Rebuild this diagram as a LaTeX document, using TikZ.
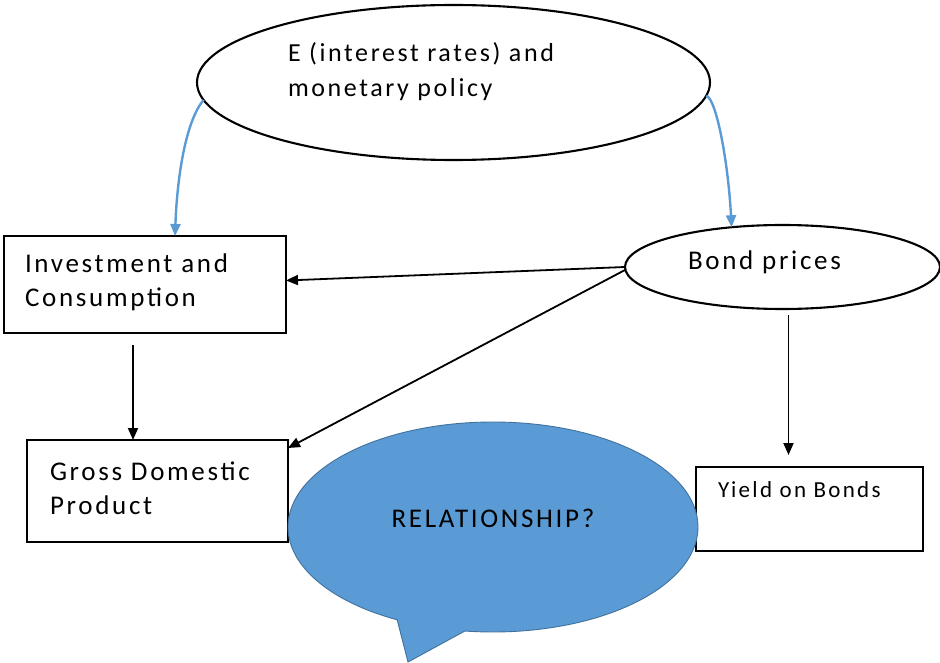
\documentclass[tikz,border=0pt]{standalone}
\usepackage{fontspec}
\setmainfont{Carlito}[LetterSpace=10]
\usetikzlibrary{arrows.meta,positioning,shapes.geometric,shapes.callouts}
\definecolor{wordblue}{RGB}{91,155,213}
\definecolor{wordblueline}{RGB}{65,113,156}

\begin{document}
\begin{tikzpicture}[
    x=1pt, y=-1pt,
    >={Triangle[length=12pt,width=10pt]},
    every node/.style={inner sep=0pt, outer sep=0pt},
    box/.style={draw, line width=2.1pt, rectangle},
    oval/.style={draw, line width=2.1pt, ellipse},
    lbl/.style={anchor=west, align=left, font=\fontsize{27}{34}\selectfont},
    arr/.style={->, line width=1.8pt},
    bluearr/.style={->, line width=2.4pt, wordblue},
]
\useasboundingbox (0,0) rectangle (940,663);

% === shapes ===
\node[oval, minimum width=513pt, minimum height=155pt] (rates) at (453.5,82.5) {};
\node[oval, minimum width=315pt, minimum height=84pt] (bond) at (782.5,267) {};
\node[box, minimum width=282pt, minimum height=97pt] (invest) at (145,284.5) {};
\node[box, minimum width=261pt, minimum height=102pt] (gdp) at (157.5,491) {};
\node[box, minimum width=227pt, minimum height=84pt] (yield) at (809.5,509) {};
\node[ellipse callout, fill=wordblue, draw=wordblueline, line width=0.9pt,
      minimum width=410pt, minimum height=210pt, text depth=18pt,
      callout absolute pointer={(408,662)}, callout pointer arc=20,
      font=\fontsize{27}{30}\selectfont] (relation) at (493,527) {RELATIONSHIP?};

% === labels ===
\node[lbl, font=\fontsize{26}{35}\selectfont] (ratestext) at (288,72) {E (interest rates) and\\monetary policy};
\node[lbl] (bondtext) at (688,262) {Bond prices};
\node[lbl] (investtext) at (25,282) {Investment and\\Consumption};
\node[lbl] (gdptext) at (50,488) {Gross Domestic\\Product};
\node[lbl, font=\fontsize{23}{28}\selectfont] (yieldtext) at (718,490) {Yield on Bonds};

% === connectors ===
\draw[bluearr] (rates.184) .. controls (185,122) and (177,180) .. ([xshift=30pt]invest.north);
\draw[bluearr] (rates.357) .. controls (716,98) and (728,160) .. (bond.142);
\draw[arr] (bond.west) -- ([yshift=4pt]invest.east);
\draw[arr] ([yshift=-3pt]bond.west) -- ([yshift=-8pt]gdp.north east);
\draw[arr] ([xshift=-12pt,yshift=-12pt]invest.south) -- ([xshift=-12pt]invest.south |- gdp.north);
\draw[arr] ([xshift=6pt,yshift=-6pt]bond.south) -- ([xshift=6pt,yshift=12pt]bond.south |- yield.north);
\end{tikzpicture}
\end{document}
